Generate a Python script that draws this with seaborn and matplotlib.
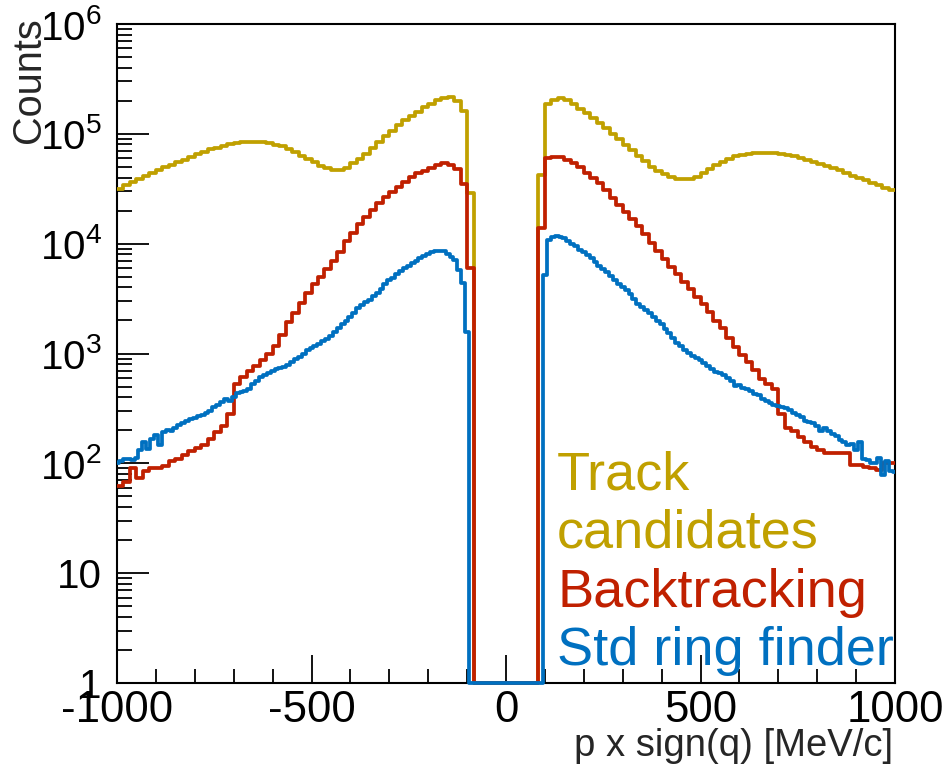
import numpy as np
import pandas as pd
import matplotlib
matplotlib.use("Agg")
import matplotlib.pyplot as plt
import seaborn as sns
from matplotlib.ticker import FixedLocator, FixedFormatter, NullFormatter, LogLocator
from matplotlib.transforms import Bbox, TransformedBbox

# ---- histogram contents -------------------------------------------------
# Track candidates and Backtracking: 120 bins of 16.67 MeV/c from -1000 to 1000
track_edges = np.linspace(-1000, 1000, 121)
track_candidates = [
    31600, 33900, 36300, 38900, 41200, 43700, 46800, 50100, 52500, 55000,
    57500, 61700, 65300, 68400, 72400, 75000, 77600, 80400, 82200, 84100,
    85100, 85100, 84100, 82200, 79400, 76700, 72400, 68400, 63100, 58900,
    55000, 51300, 48400, 46800, 46800, 49000, 53700, 58900, 66100, 74100,
    84100, 95500, 107000, 120000, 133000, 146000, 158000, 174000, 188000, 202000,
    214000, 216000, 200000, 162000, 28800, 0, 0, 0, 0, 0,
    0, 0, 0, 0, 0, 42200, 186000, 204000, 210000, 204000,
    186000, 170000, 155000, 138000, 125000, 112000, 100000, 89100, 79400, 70800,
    63100, 56200, 50100, 46200, 42700, 40300, 38900, 38500, 38900, 40700,
    43700, 47900, 51900, 55600, 58900, 62400, 64600, 66100, 66800, 67600,
    67600, 66800, 66100, 64600, 62400, 60300, 57500, 55000, 53100, 51300,
    49000, 46800, 44200, 41700, 39800, 37600, 35500, 33900, 32400, 30500,
]
backtracking = [
    62, 68, 91, 74, 85, 90, 91, 94, 104, 110,
    120, 129, 138, 148, 166, 191, 219, 282, 525, 617,
    692, 776, 871, 1000, 1175, 1479, 1950, 2344, 2884, 3589,
    4266, 5012, 5888, 6918, 8318, 10470, 12590, 15140, 17380, 20420,
    23440, 26610, 29850, 33110, 36730, 40270, 43650, 46240, 48980, 51880,
    53700, 52480, 47860, 34670, 6026, 0, 0, 0, 0, 0,
    0, 0, 0, 0, 0, 13960, 59840, 60950, 60950, 58210,
    54330, 50120, 44160, 39810, 35480, 30900, 26300, 22650, 19500, 16790,
    14450, 12300, 10230, 8511, 7244, 6166, 5248, 4467, 3846, 3273,
    2818, 2399, 1995, 1698, 1380, 1148, 977, 832, 708, 589,
    525, 479, 282, 209, 195, 174, 158, 141, 132, 124,
    123, 123, 123, 97, 96, 93, 90, 87, 100, 100,
]
# Std ring finder: 201 bins of 10 MeV/c centred on -1000 ... 1000
ring_edges = np.arange(-1005, 1006, 10)
std_ring_finder = [
    100, 105, 110, 110, 107, 112, 132, 155, 135, 166,
    182, 148, 191, 200, 195, 209, 224, 234, 245, 251,
    257, 269, 275, 288, 302, 324, 339, 363, 389, 372,
    398, 437, 447, 457, 479, 525, 562, 617, 631, 661,
    692, 724, 741, 759, 785, 832, 891, 933, 1000, 1072,
    1122, 1175, 1230, 1288, 1349, 1445, 1585, 1718, 1862, 1995,
    2163, 2344, 2570, 2754, 2917, 3090, 3311, 3589, 3890, 4266,
    4624, 4898, 5248, 5623, 5957, 6310, 6607, 6998, 7413, 7674,
    8035, 8318, 8511, 8630, 8511, 8128, 7586, 7079, 5754, 4365,
    1585, 0, 0, 0, 0, 0, 0, 0, 0, 0,
    0, 0, 0, 0, 0, 0, 0, 0, 0, 0,
    5188, 10790, 11480, 11750, 11610, 11220, 10470, 10000, 9441, 8810,
    8318, 7852, 7413, 6839, 6310, 5821, 5495, 5129, 4677, 4315,
    4027, 3802, 3508, 3162, 2851, 2661, 2483, 2323, 2138, 1972,
    1841, 1679, 1549, 1396, 1259, 1175, 1084, 1012, 955, 912,
    871, 813, 767, 724, 684, 661, 631, 596, 562, 501,
    513, 490, 473, 452, 432, 417, 389, 372, 355, 343,
    331, 324, 316, 305, 288, 275, 263, 245, 240, 232,
    219, 195, 209, 195, 186, 178, 162, 155, 148, 151,
    132, 155, 110, 107, 100, 100, 112, 79, 105, 85,
    83,
]

series_names = ["Track\ncandidates", "Backtracking", "Std ring finder"]
series_colors = ["#c0a000", "#c02000", "#0070c0"]

x_ticks = [-1000, -500, 0, 500, 1000]
y_ticks = [1, 10, 100, 1000, 10000, 100000, 1000000]
y_tick_labels = ["1", "10", r"$10^{2}$", r"$10^{3}$", r"$10^{4}$", r"$10^{5}$", r"$10^{6}$"]

# ---- style ----------------------------------------------------------------
sns.set_style("ticks")
plt.rcParams["font.family"] = ["Liberation Sans", "DejaVu Sans"]
plt.rcParams["axes.unicode_minus"] = False
plt.rcParams["mathtext.default"] = "regular"

W, H = 943, 768
fig = plt.figure(figsize=(W / 100, H / 100), dpi=100)
L, R, T, B = 117, 895, 24, 683
ax = fig.add_axes([L / W, 1 - B / H, (R - L) / W, (B - T) / H])


def step_frame(edges, counts):
    """Bin contents as a step outline; empty bins sit on the y=1 floor."""
    y = np.clip(np.asarray(counts, dtype=float), 1, None)
    return pd.DataFrame({"p": edges, "n": np.append(y, y[-1])})


histos = [
    (track_edges, track_candidates),
    (track_edges, backtracking),
    (ring_edges, std_ring_finder),
]
for (edges, counts), color in zip(histos, series_colors):
    sns.lineplot(data=step_frame(edges, counts), x="p", y="n", ax=ax,
                 drawstyle="steps-post", color=color, lw=2.7,
                 estimator=None, sort=False)

ax.set_yscale("log")
ax.set_xlim(-1000, 1000)
ax.set_ylim(1, 1e6)

# let the outlines sit on top of the frame at the floor
clip = TransformedBbox(Bbox([[0, -0.02], [1, 1]]), ax.transAxes)
for ln in ax.get_lines():
    ln.set_clip_box(clip)
    ln.set_zorder(3)
    ln.set_solid_joinstyle("round")
    ln.set_solid_capstyle("round")

# ---- axes -----------------------------------------------------------------
for sp in ax.spines.values():
    sp.set_linewidth(1.5)
    sp.set_color("black")

ax.xaxis.set_major_locator(FixedLocator(x_ticks))
ax.xaxis.set_minor_locator(FixedLocator(np.arange(-1000, 1001, 100)))
ax.yaxis.set_major_locator(FixedLocator(y_ticks))
ax.yaxis.set_major_formatter(FixedFormatter(y_tick_labels))
ax.yaxis.set_minor_locator(LogLocator(base=10, subs=np.arange(2, 10), numticks=20))
ax.yaxis.set_minor_formatter(NullFormatter())

ax.tick_params(axis="both", which="both", direction="in", top=False, right=False,
               color="black", width=1.3, labelcolor="black")
ax.tick_params(axis="x", which="major", length=20, pad=5, labelsize=31.5)
ax.tick_params(axis="x", which="minor", length=10)
ax.tick_params(axis="y", which="major", length=23, pad=11, labelsize=29)
ax.tick_params(axis="y", which="minor", length=11)

ax.set_xlabel("p x sign(q) [MeV/c]", fontsize=27.5, loc="right")
ax.xaxis.set_label_coords(0.998, -0.068)
ax.set_ylabel("Counts", fontsize=28.5, loc="top")
ax.yaxis.set_label_coords(-0.089, 1.01)

# ---- legend as coloured text ----------------------------------------------
fig.text(557 / W, 1 - 490 / H, "Track", color=series_colors[0], fontsize=39, va="baseline")
fig.text(557 / W, 1 - 548 / H, "candidates", color=series_colors[0], fontsize=39, va="baseline")
fig.text(557 / W, 1 - 607 / H, series_names[1], color=series_colors[1], fontsize=39, va="baseline")
fig.text(557 / W, 1 - 665 / H, series_names[2], color=series_colors[2], fontsize=39, va="baseline")

fig.savefig("out.png", dpi=100, facecolor="white")
